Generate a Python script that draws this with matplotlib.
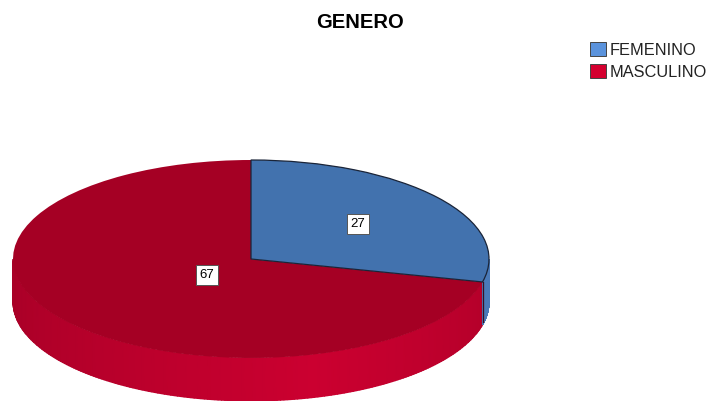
import numpy as np
import matplotlib
matplotlib.use('Agg')
import matplotlib.pyplot as plt
from matplotlib.patches import Patch
from matplotlib.colors import LinearSegmentedColormap

plt.rcParams['font.family'] = ['Liberation Sans', 'DejaVu Sans']

title = 'GENERO'
labels = ['FEMENINO', 'MASCULINO']
values = [27, 67]

top_colors = ['#4272ae', '#a50024']
legend_colors = ['#5b93dc', '#d4002f']

W, H = 707, 401
cx, cy = 251, 259      # pie centre in pixels
rx, ry = 238, 99       # ellipse radii in pixels
depth = 43 / ry        # wall height in pie units

fig = plt.figure(figsize=(W / 100, H / 100), dpi=100)
ax = fig.add_axes([0, 0, 1, 1])

frac = values[0] / sum(values)
split = 90 - 360 * frac


def wall(a0, a1, shade, cmap):
    # one curved wall from angle a0 to a1, shaded smoothly
    ang = np.radians(np.linspace(a0, a1, 200))
    X = np.array([np.cos(ang), np.cos(ang)])
    Y = np.array([np.sin(ang), np.sin(ang) - depth])
    C = np.array([shade(ang), shade(ang)])
    ax.pcolormesh(X, Y, C, shading='gouraud', cmap=cmap, vmin=0, vmax=1, zorder=1)


red_wall = LinearSegmentedColormap.from_list('red_wall', ['#a90027', '#cb0030'])
blue_wall = LinearSegmentedColormap.from_list('blue_wall', ['#4a7ab8', '#4a7ab8'])


def front(ang):
    # darker at the far left, brightest near the front
    return np.clip(1 - np.abs(np.degrees(ang) + 75) / 105, 0, 1) ** 1.2


wall(-180, split, front, red_wall)
wall(split, 0, front, blue_wall)

# top of the pie, only the blue slice has a dark outline
wedges, _ = ax.pie(values, colors=top_colors, startangle=90, counterclock=False,
                   radius=1, wedgeprops=dict(linewidth=0))
wedges[1].set_zorder(3)
wedges[0].set_zorder(4)
wedges[0].set_edgecolor('#1a2438')
wedges[0].set_linewidth(0.9)
ax.set_aspect('auto')
ax.set_xlim((0 - cx) / rx, (W - cx) / rx)
ax.set_ylim((cy - H) / ry, cy / ry)
ax.set_frame_on(False)
ax.set_xticks([])
ax.set_yticks([])

# dark line where the slice border runs down the wall
bx, by = np.cos(np.radians(split)), np.sin(np.radians(split))
ax.plot([bx, bx], [by, by - depth + 0.03], color='#3a1020', lw=0.9, zorder=2)

# value labels
ax.text(0.45, 0.35, str(values[0]), fontsize=9.5, ha='center', va='center', zorder=5,
        bbox=dict(boxstyle='square,pad=0.3', fc='white', ec='#555555', lw=0.7))
ax.text(-0.185, -0.16, str(values[1]), fontsize=9.5, ha='center', va='center', zorder=5,
        bbox=dict(boxstyle='square,pad=0.3', fc='white', ec='#555555', lw=0.7))

fig.text(360 / W, 1 - 22 / H, title, fontsize=14.5, fontweight='bold', ha='center', va='center')

handles = [Patch(facecolor=legend_colors[i], edgecolor='#444444', linewidth=0.7, label=labels[i])
           for i in range(2)]
fig.legend(handles=handles, loc='upper left', bbox_to_anchor=(590 / W, 1 - 42 / H), frameon=False,
           fontsize=11.8, handlelength=0.98, handleheight=0.92, handletextpad=0.2,
           labelspacing=0.4, borderpad=0, borderaxespad=0, labelcolor='#222222')

plt.savefig('out.png', dpi=100)
